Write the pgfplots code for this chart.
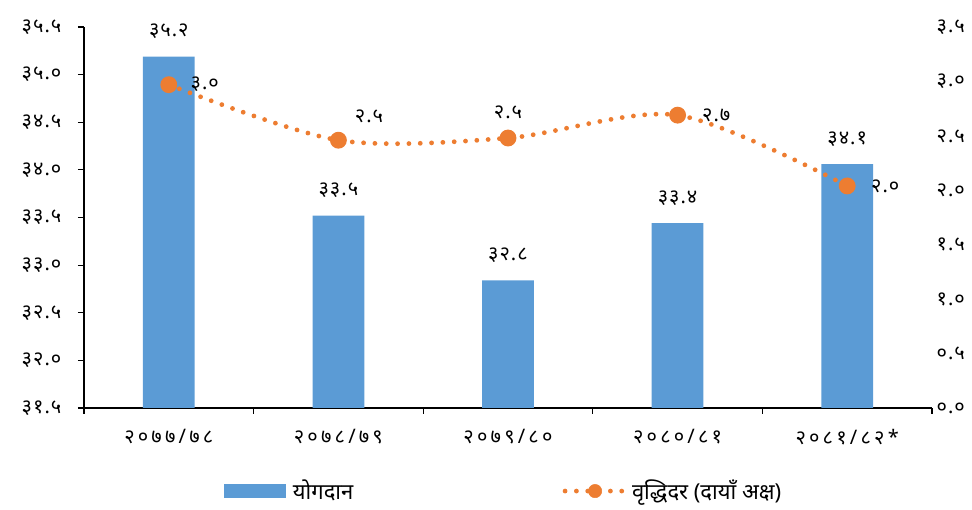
\documentclass[border=0pt]{standalone}
\usepackage{fontspec}
\setmainfont[Script=Devanagari]{Noto Sans}
\newfontfamily\xtickfont[Script=Devanagari, LetterSpace=16]{Noto Sans}
\newfontfamily\ytickfont[Script=Devanagari, LetterSpace=5]{Noto Sans}
\usepackage{pgfplots}
\pgfplotsset{compat=1.18}
\usepackage{pgfplotstable}
\definecolor{barblue}{HTML}{5B9BD5}
\definecolor{lineorange}{HTML}{ED7D31}

\pgfplotstableread{
x y lab
0 35.19 ३५.२
1 33.52 ३३.५
2 32.84 ३२.८
3 33.44 ३३.४
4 34.06 ३४.१
}\bardata

\pgfplotstableread{
x y lab dx dy
0 2.97 ३.० 27 0
1 2.46 २.५ 23 18
2 2.48 २.५ 0 19.5
3 2.69 २.७ 29 0
4 2.04 २.० 28.5 0
}\linedata

\begin{document}
\begin{tikzpicture}[font=\fontsize{15}{17}\selectfont]
\path[use as bounding box] (0,0) rectangle (729pt,382.5pt);
\begin{axis}[
  at={(63pt,76.5pt)}, anchor=south west,
  width=636pt, height=285.75pt, scale only axis,
  xmin=-0.5, xmax=4.5, ymin=31.5, ymax=35.5,
  axis x line*=bottom, axis y line*=left,
  axis line style={-, black, line width=1.2pt},
  xtick={0,1,2,3,4},
  xticklabels={२०७७/७८, २०७८/७९, २०७९/८०, २०८०/८१, २०८१/८२*},
  minor xtick={-0.5,0.5,1.5,2.5,3.5,4.5},
  major x tick style={draw=none},
  minor x tick style={black, line width=0.8pt},
  major y tick style={black, line width=0.8pt},
  tick align=outside,
  major tick length=4.5pt, minor tick length=4.5pt,
  ytick={31.5,32,32.5,33,33.5,34,34.5,35,35.5},
  yticklabels={३१.५, ३२.०, ३२.५, ३३.०, ३३.५, ३४.०, ३४.५, ३५.०, ३५.५},
  yticklabel style={xshift=-9pt, font=\ytickfont\fontsize{15}{17}\selectfont},
  xticklabel style={yshift=-8pt, font=\xtickfont\fontsize{15}{17}\selectfont},
  legend columns=2,
  legend style={at={(0.495,-0.218)}, anchor=center, draw=none, fill=none,
    font=\fontsize{16.5}{18}\selectfont,
    /tikz/every even column/.append style={column sep=155pt}},
]
\addplot[ybar, bar width=0.305, fill=barblue, draw=none,
  legend image code/.code={\fill[barblue] (0pt,-5pt) rectangle (47pt,5pt); \path (50pt,0pt);},
  nodes near coords, point meta=explicit symbolic,
  nodes near coords style={anchor=center, yshift=19pt, text=black, font=\ytickfont\fontsize{15}{17}\selectfont}]
  table[x=x, y=y, meta=lab]{\bardata};
\addlegendentry{योगदान}
\addlegendimage{legend image code/.code={
  \draw[lineorange, line width=3.6pt, dash pattern=on 0pt off 8.5pt, line cap=round] (0pt,0pt) -- (45pt,0pt);
  \fill[lineorange] (22.5pt,0pt) circle (5pt); \path (48pt,0pt);}}
\addlegendentry{वृद्धिदर (दायाँ अक्ष)}
\end{axis}
\begin{axis}[
  at={(63pt,76.5pt)}, anchor=south west,
  width=636pt, height=285.75pt, scale only axis,
  xmin=-0.5, xmax=4.5, ymin=0, ymax=3.5,
  axis x line=none, axis y line*=right,
  y axis line style={draw=none},
  ytick={0,0.5,1,1.5,2,2.5,3,3.5},
  yticklabels={०.०, ०.५, १.०, १.५, २.०, २.५, ३.०, ३.५},
  major tick length=0pt,
  yticklabel style={xshift=0pt, font=\ytickfont\fontsize{15}{17}\selectfont},
  clip=false,
]
\addplot[smooth, lineorange, line width=3.6pt, dash pattern=on 0pt off 8.5pt, line cap=round,
  mark=*, mark size=4.5pt, mark options={solid, fill=lineorange, draw=none},
  nodes near coords, point meta=explicit symbolic,
  visualization depends on={\thisrow{dx} \as \dx},
  visualization depends on={\thisrow{dy} \as \dy},
  nodes near coords style={anchor=center, xshift=\dx pt, yshift=\dy pt, text=black, font=\ytickfont\fontsize{15}{17}\selectfont}]
  table[x=x, y=y, meta=lab]{\linedata};
\end{axis}
\end{tikzpicture}
\end{document}
